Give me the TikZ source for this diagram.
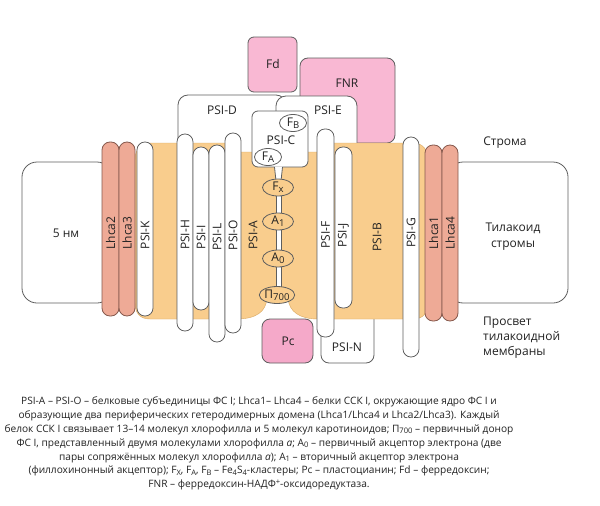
\documentclass[tikz,border=0pt]{standalone}
\usepackage{fontspec}
\setmainfont{Open Sans}
\usetikzlibrary{shapes.geometric}
\definecolor{orng}{HTML}{F9CD8D}
\definecolor{orngb}{HTML}{D9A860}
\definecolor{lineg}{HTML}{5E5E5E}
\definecolor{lhcaf}{HTML}{EEAA96}
\definecolor{lhcab}{HTML}{86594D}
\definecolor{pinkf}{HTML}{F9B8D3}
\definecolor{pinkc}{HTML}{F5A9C9}
\definecolor{txt}{HTML}{222222}
\newcommand{\sbs}[1]{\raisebox{-0.35ex}{\fontsize{9.5}{10}\selectfont #1}}
\newcommand{\csb}[1]{\raisebox{-0.3ex}{\fontsize{7.6}{8}\selectfont #1}}
\newcommand{\csp}[1]{\raisebox{0.7ex}{\fontsize{7.6}{8}\selectfont #1}}
\tikzset{
  wbox/.style={draw=lineg, fill=white, line width=0.8pt, rounded corners=#1},
  wbox/.default=10pt,
  pbox/.style={draw=lineg, fill=pinkf, line width=0.8pt, rounded corners=#1},
  pbox/.default=8pt,
  tube/.style={draw=lineg, fill=white, line width=0.8pt, rounded corners=7.9pt},
  lhca/.style={draw=lhcab, fill=lhcaf, line width=0.8pt, rounded corners=8pt},
  lbl/.style={font=\fontsize{12}{14}\selectfont, text=txt, inner sep=0pt},
  vlbl/.style={lbl, rotate=90},
  carrier/.style={ellipse, draw=lineg, fill=orng, line width=0.8pt, inner sep=0pt,
    minimum width=31pt, minimum height=17pt, font=\fontsize{12}{14}\selectfont, text=txt},
}
\begin{document}
\begin{tikzpicture}[x=1pt,y=-1pt]
\useasboundingbox (0,0) rectangle (600,506);
\fill[white] (0,0) rectangle (600,506);
% side boxes
\draw[wbox=15pt] (22,162) rectangle (112,303);
\draw[wbox=15pt] (448,162) rectangle (568,303);
% stromal proteins
\draw[pbox=6pt] (248,37) rectangle (297,92);
\draw[pbox=8pt] (300,58) rectangle (395,143);
\draw[wbox] (178,95) rectangle (286,158);
\draw[wbox] (276,96) rectangle (357,158);
% PSI-N
\draw[wbox=8pt] (321,300) rectangle (374,363);
% core body
\draw[fill=orng, draw=orngb, line width=0.4pt]
  (135,160) .. controls (135,150) and (140,143) .. (150,143) -- (233,143) -- (233,152)
  -- (325,152) -- (325,143) -- (413,143) .. controls (423,143) and (428,150) .. (428,160)
  -- (428,303) .. controls (428,313) and (423,319) .. (413,319) -- (318,319)
  .. controls (300,319) and (289,312) .. (288,298) -- (267,298)
  .. controls (266,312) and (256,319) .. (236,319) -- (150,319)
  .. controls (140,319) and (135,313) .. (135,303) -- cycle;
% PSI-C
\draw[wbox=6pt] (252,111) rectangle (308,167);
% electron transfer chain bar
\fill[white] (274.5,166.5) -- (282.5,166.5) -- (281,181) -- (276,181) -- cycle;
\draw[lineg, line width=0.8pt] (274.5,167) -- (276,181) (282.5,167) -- (281,181);
\draw[lineg, fill=white, line width=0.8pt] (276,180) rectangle (281,290);
\node[carrier] (fx) at (278,187.5) {F\sbs{x}};
\node[carrier] (a1) at (278,221.5) {A\sbs{1}};
\node[carrier] (a0) at (278,258.5) {A\sbs{0}};
\node[carrier, minimum width=35pt] (p700) at (277,295) {П\sbs{700}};
% PSI-C cofactors
\node[carrier, fill=white, minimum width=27pt, minimum height=17pt] (fb) at (293,123) {F\sbs{B}};
\node[carrier, fill=white, minimum width=27pt, minimum height=17pt] (fa) at (268,157) {F\sbs{A}};
% Pc
\draw[pbox=8pt, fill=pinkc] (262,319) rectangle (313,363);
% tubes
\draw[tube] (137,142) rectangle (153,316);
\draw[tube] (177,134) rectangle (193,331);
\draw[tube] (193,147) rectangle (209,310);
\draw[tube] (209,145) rectangle (225,342);
\draw[tube] (225,133) rectangle (241,333);
\draw[tube] (317,129) rectangle (334,337);
\draw[tube] (335,147) rectangle (352,308);
\draw[tube] (403,137) rectangle (419,357);
\draw[lhca] (102,142) rectangle (119,316);
\draw[lhca] (119,142) rectangle (135,316);
\draw[lhca] (425,145) rectangle (442,321);
\draw[lhca] (442,145) rectangle (458,321);
% labels
\node[lbl] (fd) at (273,64) {Fd};
\node[lbl] (fnr) at (347,83) {FNR};
\node[lbl] (psid) at (222,110) {PSI-D};
\node[lbl] (psie) at (328,110) {PSI-E};
\node[lbl] (psic) at (281,140) {PSI-C};
\node[lbl] (pc) at (288,341) {Pc};
\node[lbl] (psin) at (347,347) {PSI-N};
\node[lbl] (nm) at (66,233) {5 нм};
\node[vlbl] (lhca2) at (110.5,233) {Lhca2};
\node[vlbl] (lhca3) at (127,233) {Lhca3};
\node[vlbl] (psik) at (145,235) {PSI-K};
\node[vlbl] (psih) at (185,235) {PSI-H};
\node[vlbl] (psii) at (201,237) {PSI-I};
\node[vlbl] (psil) at (217,237) {PSI-L};
\node[vlbl] (psio) at (233,235) {PSI-O};
\node[vlbl] (psia) at (253,235) {PSI-A};
\node[vlbl] (psif) at (325.5,235) {PSI-F};
\node[vlbl] (psij) at (343.5,235) {PSI-J};
\node[vlbl] (psib) at (377,237) {PSI-B};
\node[vlbl] (psig) at (411,233) {PSI-G};
\node[vlbl] (lhca1) at (433.5,233) {Lhca1};
\node[vlbl] (lhca4) at (450,233) {Lhca4};
\node[lbl] (stroma) at (505,143) {Строма};
\node[lbl, align=center, font=\fontsize{12}{16}\selectfont] (thyl) at (513,237) {Тилакоид\\стромы};
\node[lbl, align=left, anchor=west, font=\fontsize{12}{15}\selectfont] (lumen) at (483,338) {Просвет\\тилакоидной\\мембраны};
% caption
\node[text=txt, align=center, inner sep=0pt, font=\fontsize{10.15}{13.9}\selectfont] (cap) at (259,443.5)
{PSI-A – PSI-O – белковые субъединицы ФС I; Lhca1– Lhca4 – белки ССК I, окружающие ядро ФС I и\\
образующие два периферических гетеродимерных домена (Lhca1/Lhca4 и Lhca2/Lhca3). Каждый\\
белок ССК I связывает 13–14 молекул хлорофилла и 5 молекул каротиноидов; П\csb{700} – первичный донор\\
ФС I, представленный двумя молекулами хлорофилла \textit{a}; A\csb{0} – первичный акцептор электрона (две\\
пары сопряжённых молекул хлорофилла \textit{a}); A\csb{1} – вторичный акцептор электрона\\
(филлохинонный акцептор); F\csb{X}, F\csb{A}, F\csb{B} – Fe\csb{4}S\csb{4}-кластеры; Pc – пластоцианин; Fd – ферредоксин;\\
FNR – ферредоксин-НАДФ\csp{+}-оксидоредуктаза.};
\end{tikzpicture}
\end{document}
